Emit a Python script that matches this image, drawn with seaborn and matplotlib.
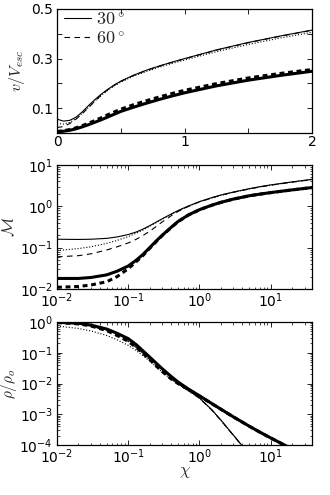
import numpy as np
import matplotlib
matplotlib.use("Agg")
import matplotlib.pyplot as plt
import matplotlib.ticker as mticker
import seaborn as sns

sns.set_style("ticks")
plt.rcParams["font.family"] = ["DejaVu Sans"]
plt.rcParams["mathtext.fontset"] = "cm"
plt.rcParams["xtick.color"] = "k"
plt.rcParams["ytick.color"] = "k"
plt.rcParams["axes.edgecolor"] = "k"

# top panel: velocity vs chi (linear axis)
chi_lin = [0, 0.05, 0.1, 0.15, 0.2, 0.25, 0.3, 0.35, 0.4, 0.45, 0.5, 0.6, 0.7, 0.8, 0.9, 1.0, 1.25, 1.5, 1.75, 2.0]
v_thin_solid = [0.056, 0.048, 0.051, 0.064, 0.086, 0.112, 0.136, 0.158, 0.177, 0.194, 0.209, 0.233, 0.253, 0.270, 0.2855, 0.300, 0.335, 0.365, 0.391, 0.415]
v_thin_dot = [0.038, 0.036, 0.043, 0.058, 0.080, 0.105, 0.130, 0.153, 0.173, 0.190, 0.205, 0.229, 0.248, 0.265, 0.280, 0.294, 0.328, 0.357, 0.383, 0.406]
v_thin_dash = [0.022, 0.026, 0.038, 0.056, 0.079, 0.104, 0.130, 0.154, 0.175, 0.193, 0.208, 0.232, 0.252, 0.269, 0.2845, 0.299, 0.334, 0.364, 0.390, 0.414]
v_thick_solid = [0.005, 0.007, 0.011, 0.017, 0.025, 0.034, 0.044, 0.054, 0.065, 0.076, 0.087, 0.104, 0.120, 0.135, 0.149, 0.162, 0.190, 0.213, 0.232, 0.249]
v_thick_dash = [0.006, 0.009, 0.014, 0.021, 0.030, 0.040, 0.051, 0.062, 0.074, 0.085, 0.096, 0.114, 0.130, 0.145, 0.159, 0.172, 0.199, 0.222, 0.240, 0.256]

# middle panel: Mach number (log-log)
chi_log = [0.01, 0.02, 0.03, 0.05, 0.07, 0.1, 0.13, 0.16, 0.2, 0.25, 0.3, 0.4, 0.5, 0.7, 1, 1.5, 2, 3, 5, 7, 10, 20, 38]
m_thin_solid = [0.16, 0.158, 0.16, 0.168, 0.182, 0.208, 0.24, 0.28, 0.34, 0.42, 0.50, 0.65, 0.79, 1.02, 1.30, 1.63, 1.88, 2.22, 2.67, 2.98, 3.3, 3.9, 4.5]
m_thin_dot = [0.085, 0.095, 0.105, 0.127, 0.15, 0.185, 0.225, 0.265, 0.33, 0.41, 0.49, 0.64, 0.78, 1.0, 1.28, 1.6, 1.85, 2.19, 2.63, 2.94, 3.25, 3.85, 4.44]
m_thin_dash = [0.06, 0.064, 0.071, 0.088, 0.105, 0.13, 0.16, 0.195, 0.25, 0.33, 0.42, 0.59, 0.75, 1.0, 1.28, 1.6, 1.85, 2.19, 2.63, 2.94, 3.25, 3.85, 4.44]
m_thick_solid = [0.018, 0.018, 0.019, 0.022, 0.027, 0.036, 0.05, 0.068, 0.10, 0.148, 0.20, 0.31, 0.43, 0.62, 0.83, 1.07, 1.25, 1.5, 1.8, 1.97, 2.15, 2.5, 2.85]
m_thick_dash = [0.011, 0.0115, 0.0125, 0.015, 0.02, 0.031, 0.046, 0.064, 0.096, 0.143, 0.196, 0.305, 0.425, 0.615, 0.825, 1.065, 1.245, 1.495, 1.795, 1.965, 2.145, 2.495, 2.845]

# bottom panel: density (log-log); thin curves leave the frame early
chi_short = [0.01, 0.02, 0.03, 0.05, 0.07, 0.1, 0.13, 0.16, 0.2, 0.25, 0.3, 0.4, 0.5, 0.7, 1, 1.5, 2, 3, 5]
r_thin_solid = [0.977, 0.912, 0.794, 0.589, 0.427, 0.288, 0.182, 0.117, 0.0724, 0.0447, 0.0302, 0.0170, 0.0110, 0.00617, 0.00339, 0.00138, 6.46e-4, 2.09e-4, 5.01e-5]
r_thin_dot = [0.741, 0.617, 0.513, 0.363, 0.263, 0.174, 0.117, 0.0813, 0.0537, 0.0339, 0.0234, 0.0138, 0.00955, 0.00575, 0.00331, 0.00135, 6.31e-4, 2.04e-4, 4.90e-5]
r_thin_dash = [0.955, 0.871, 0.741, 0.525, 0.363, 0.234, 0.148, 0.0977, 0.0603, 0.0363, 0.0245, 0.0141, 0.00977, 0.00589, 0.00331, 0.00135, 6.31e-4, 2.04e-4, 4.90e-5]
r_thick_solid = [0.977, 0.912, 0.794, 0.589, 0.427, 0.288, 0.182, 0.117, 0.0724, 0.0447, 0.0302, 0.0170, 0.0112, 0.00661, 0.00398, 0.00221, 0.00146, 8.20e-4, 4.09e-4, 2.64e-4, 1.70e-4, 7.41e-5, 3.47e-5]
r_thick_dash = [0.955, 0.871, 0.741, 0.525, 0.363, 0.234, 0.148, 0.0977, 0.0603, 0.0363, 0.0245, 0.0141, 0.0100, 0.00631, 0.00389, 0.00219, 0.00145, 8.16e-4, 4.07e-4, 2.63e-4, 1.69e-4, 7.37e-5, 3.45e-5]

thin, thick = 0.8, 2.2
styles = {
    "thin_solid": dict(lw=thin, linestyle="-"),
    "thin_dot": dict(lw=thin, linestyle=":"),
    "thin_dash": dict(lw=thin, dashes=(5, 4)),
    "thick_solid": dict(lw=thick, linestyle="-"),
    "thick_dash": dict(lw=thick, dashes=(1.6, 1.2)),
}


def draw(ax, x, ys, xs_alt=None, labels=None):
    for key, y in ys.items():
        xx = x if len(y) == len(x) else xs_alt
        lab = labels.get(key) if labels else None
        sns.lineplot(x=xx, y=y, ax=ax, color="k", sort=False, estimator=None,
                     label=lab, **styles[key])


fig = plt.figure(figsize=(3.3, 4.95), dpi=100)
left, width = 57 / 330, 255 / 330
ax1 = fig.add_axes([left, 1 - 133 / 495, width, 124 / 495])
ax2 = fig.add_axes([left, 1 - 289 / 495, width, 124 / 495])
ax3 = fig.add_axes([left, 1 - 445 / 495, width, 123 / 495])

draw(ax1, chi_lin, {
    "thin_solid": v_thin_solid, "thin_dot": v_thin_dot, "thin_dash": v_thin_dash,
    "thick_solid": v_thick_solid, "thick_dash": v_thick_dash,
}, labels={"thin_solid": r"$30^\circ$", "thin_dash": r"$60^\circ$"})
ax1.set_xlim(0, 2)
ax1.set_ylim(0, 0.5)
ax1.set_xticks([0, 0.5, 1, 1.5, 2])
ax1.set_xticklabels(["0", "", "1", "", "2"])
ax1.set_yticks([0, 0.1, 0.2, 0.3, 0.4, 0.5])
ax1.set_yticklabels(["", "0.1", "", "0.3", "", "0.5"])
ax1.set_ylabel(r"$v/V_{esc}$", fontsize=11.5)
ax1.yaxis.set_label_coords(-0.118, 0.5)
ax1.set_xlabel("")
ax1.legend(loc="upper left", bbox_to_anchor=(0.02, 1.0), frameon=False,
           fontsize=13, labelspacing=0.05, handlelength=1.5, handletextpad=0.3,
           borderpad=0.1, borderaxespad=0)

draw(ax2, chi_log, {
    "thin_solid": m_thin_solid, "thin_dot": m_thin_dot, "thin_dash": m_thin_dash,
    "thick_solid": m_thick_solid, "thick_dash": m_thick_dash,
})
ax2.set_ylim(1e-2, 1e1)
ax2.set_ylabel(r"$\mathcal{M}$", fontsize=11.5)
ax2.yaxis.set_label_coords(-0.155, 0.5)

draw(ax3, chi_log, {
    "thin_solid": r_thin_solid, "thin_dot": r_thin_dot, "thin_dash": r_thin_dash,
    "thick_solid": r_thick_solid, "thick_dash": r_thick_dash,
}, xs_alt=chi_short)
ax3.set_ylim(1e-4, 1e0)
ax3.set_ylabel(r"$\rho/\rho_o$", fontsize=11)
ax3.yaxis.set_label_coords(-0.148, 0.5)
ax3.set_xlabel(r"$\chi$", fontsize=12)
ax3.xaxis.set_label_coords(0.5, -0.135)

for ax in (ax2, ax3):
    ax.set_xscale("log")
    ax.set_yscale("log")
    ax.set_xlim(1e-2, 38)
    ax.xaxis.set_major_locator(mticker.LogLocator(base=10, numticks=10))
    ax.yaxis.set_major_locator(mticker.LogLocator(base=10, numticks=10))
    ax.xaxis.set_minor_locator(mticker.LogLocator(base=10, subs=np.arange(2, 10), numticks=20))
    ax.yaxis.set_minor_locator(mticker.LogLocator(base=10, subs=np.arange(2, 10), numticks=20))
    ax.xaxis.set_minor_formatter(mticker.NullFormatter())
    ax.yaxis.set_minor_formatter(mticker.NullFormatter())
ax2.set_xlabel("")

for ax in (ax1, ax2, ax3):
    ax.tick_params(which="major", length=3.5, width=0.6, labelsize=10, pad=3,
                   direction="in", top=True, right=True)
    ax.tick_params(axis="x", which="major", pad=1.5)
    ax.tick_params(which="minor", length=1.8, width=0.5, direction="in", top=True, right=True)
    for s in ax.spines.values():
        s.set_linewidth(0.9)

fig.savefig("out.png", dpi=100)
